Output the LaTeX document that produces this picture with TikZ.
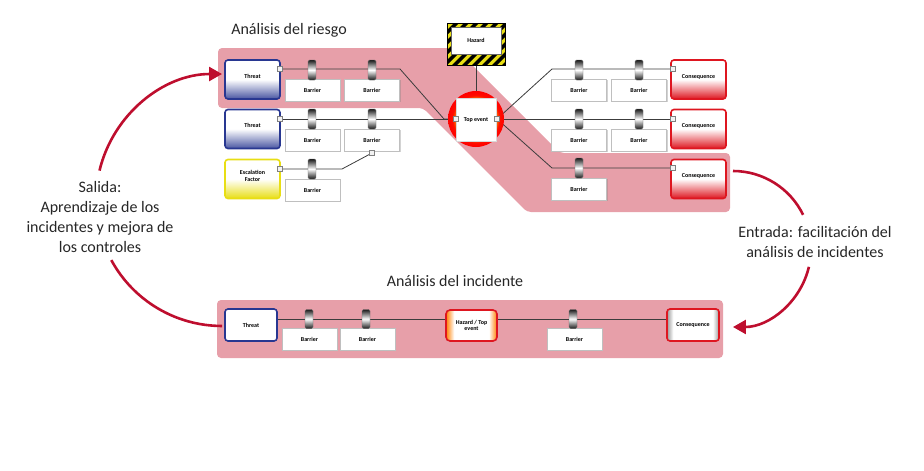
\documentclass[tikz,border=0pt]{standalone}
\usepackage{fontspec}
\setmainfont{Carlito}
\usetikzlibrary{arrows.meta,shadows,backgrounds}
\definecolor{band}{RGB}{231,159,169}
\definecolor{arrowred}{RGB}{190,14,46}
\definecolor{tblue}{RGB}{40,55,145}
\definecolor{cred}{RGB}{222,22,32}
\definecolor{efyellow}{RGB}{232,222,20}
\definecolor{wirec}{RGB}{60,60,60}
\newcommand\boxfont{\fontsize{6}{6.5}\selectfont\bfseries}
\pgfdeclareradialshading{teshade}{\pgfpointorigin}{color(0bp)=(yellow!60!orange);color(18bp)=(orange);color(21bp)=(red!90!orange);color(25bp)=(red);color(50bp)=(red)}
\pgfdeclarehorizontalshading{edgeorange}{100bp}{color(0bp)=(orange);color(25bp)=(orange);color(33bp)=(white);color(67bp)=(white);color(75bp)=(orange);color(100bp)=(orange)}
\pgfdeclarehorizontalshading{edgegray}{100bp}{color(0bp)=(black!40);color(25bp)=(black!40);color(31bp)=(white);color(69bp)=(white);color(75bp)=(black!40);color(100bp)=(black!40)}

\begin{document}
\begin{tikzpicture}[x=1pt,y=1pt,
	threat/.style = {draw=tblue,line width=1.6pt,rounded corners=3pt,top color=white,bottom color=tblue!85,middle color=white,
		minimum width=55pt,minimum height=39pt,inner sep=1pt,font=\boxfont,text height=4.5pt,text depth=7.5pt},
	consq/.style = {threat,draw=cred,bottom color=cred,middle color=white},
	escal/.style = {draw=efyellow,line width=1.6pt,rounded corners=3pt,top color=white,bottom color=efyellow,middle color=white,
		minimum width=55pt,minimum height=39pt,inner sep=1pt,font=\boxfont,align=center,text depth=6pt},
	barrier/.style = {draw=black!25,fill=white,minimum width=55pt,minimum height=22pt,inner sep=0pt,font=\boxfont,
		drop shadow={opacity=0.35,shadow xshift=1pt,shadow yshift=-1pt}},
	holder/.style = {draw=black!60,rounded corners=1.5pt,minimum width=8pt,minimum height=20pt,inner sep=0pt,
		top color=black!90,bottom color=black!90,middle color=white},
	port/.style = {draw=black!50,fill=black!5,minimum size=5pt,inner sep=0pt},
	tering/.style = {circle,minimum size=56pt,inner sep=0pt,shading=teshade},
	tebox/.style = {fill=white,draw=black!15,minimum width=40pt,minimum height=43pt,inner sep=0pt,font=\boxfont},
	hazard/.style = {draw=black,minimum width=58pt,minimum height=42pt,inner sep=0pt,font=\boxfont,text height=4.5pt,text depth=7.5pt,
		path picture={
			\fill[efyellow] (path picture bounding box.south west) rectangle (path picture bounding box.north east);
			\foreach \k in {0,...,11}
				\fill[black] ([xshift=\k*10pt-45pt]path picture bounding box.south west) -- ++(5pt,0pt) -- ++(50pt,50pt) -- ++(-5pt,0pt) -- cycle;
			\fill[white,draw=black!60] ([shift={(4pt,-4pt)}]path picture bounding box.north west) rectangle ([shift={(-4pt,11pt)}]path picture bounding box.south east);
		}},
	bthreat/.style = {draw=tblue,line width=1.6pt,rounded corners=3pt,fill=white,minimum width=52pt,minimum height=32pt,inner sep=1pt,font=\boxfont},
	bhazard/.style = {draw=cred,line width=1.6pt,rounded corners=4pt,shading=edgeorange,
		minimum width=51pt,minimum height=31pt,inner sep=1pt,font=\boxfont,align=center},
	bcons/.style = {draw=cred,line width=1.6pt,rounded corners=3pt,shading=edgegray,
		minimum width=52pt,minimum height=32pt,inner sep=1pt,font=\boxfont},
	wire/.style = {draw=wirec,line width=0.8pt},
	flow/.style = {draw=arrowred,line width=2.6pt},
	title/.style = {font=\fontsize{16}{19}\selectfont,text=black!85},
	note/.style = {font=\fontsize{16}{20}\selectfont,align=center,text=black!85}]

	\useasboundingbox (0,0) rectangle (924,-471);

	\node[title] (tr) at (289,-30) {Análisis del riesgo};
	\node[title] (ti) at (455,-281) {Análisis del incidente};
	\node[note] (sal) at (100,-217) {Salida:\\Aprendizaje de los\\incidentes y mejora de\\los controles};
	\node[note] (ent) at (815,-242) {Entrada: facilitación del\\análisis de incidentes};

	\node[threat] (t1) at (252.5,-79.5) {Threat};
	\node[threat] (t2) at (252.5,-129) {Threat};
	\node[escal] (ef) at (252.5,-179) {Escalation\\Factor};
	\node[port] (t1p) at (280,-69) {};
	\node[port] (t2p) at (280,-119) {};
	\node[port] (efp) at (280,-169) {};

	\node[barrier] (b11) at (312.5,-90) {Barrier};
	\node[barrier] (b12) at (372,-90) {Barrier};
	\node[barrier] (b21) at (312.5,-140) {Barrier};
	\node[barrier] (b22) at (372,-140) {Barrier};
	\node[barrier] (b31) at (312.5,-190) {Barrier};
	\node[port] (b22p) at (372,-153) {};
	\node[holder] (h11) at (312,-70) {};
	\node[holder] (h12) at (372,-70) {};
	\node[holder] (h21) at (312,-119) {};
	\node[holder] (h22) at (372,-119) {};
	\node[holder] (h31) at (312,-169) {};

	\node[hazard] (hz) at (476,-44) {Hazard};
	\node[tering] (tec) at (476,-119) {};
	\node[tebox] (te) at (476,-120) {Top event};
	\node[port] (tel) at (456,-119) {};
	\node[port] (ter) at (497,-119) {};

	\node[barrier] (r11) at (579,-90) {Barrier};
	\node[barrier] (r12) at (639,-90) {Barrier};
	\node[barrier] (r21) at (579,-140) {Barrier};
	\node[barrier] (r22) at (639,-140) {Barrier};
	\node[barrier] (r31) at (579,-189) {Barrier};
	\node[holder] (g11) at (579,-70) {};
	\node[holder] (g12) at (639,-70) {};
	\node[holder] (g21) at (579,-119) {};
	\node[holder] (g22) at (639,-119) {};
	\node[holder] (g31) at (579,-168) {};

	\node[consq] (q1) at (698.5,-79.5) {Consequence};
	\node[consq] (q2) at (698.5,-129) {Consequence};
	\node[consq] (q3) at (698.5,-179) {Consequence};
	\node[port] (q1p) at (673,-69) {};
	\node[port] (q2p) at (673,-119) {};
	\node[port] (q3p) at (673,-168) {};

	\node[bthreat] (bt) at (251,-325) {Threat};
	\node[barrier] (bb1) at (309.5,-339) {Barrier};
	\node[barrier] (bb2) at (367.5,-339) {Barrier};
	\node[barrier] (bb3) at (574.5,-339) {Barrier};
	\node[bhazard] (bh) at (471.5,-325.5) {Hazard / Top\\event};
	\node[bcons] (bq) at (693,-325) {Consequence};
	\node[holder,minimum height=19pt] (hb1) at (309,-319) {};
	\node[holder,minimum height=19pt] (hb2) at (366,-319) {};
	\node[holder,minimum height=19pt] (hb3) at (573,-319) {};

	\coordinate (kl1) at (400,-69);
	\coordinate (kl2) at (444,-119);
	\coordinate (kl3) at (342,-169);
	\coordinate (kr1) at (552,-69);
	\coordinate (kr3) at (552,-168);

	\begin{scope}[on background layer]
	\fill[band,rounded corners=4pt] (218,-48) -- (455,-48) -- (560,-153) -- (730,-153) -- (730,-212)
		-- (527,-212) -- (423,-108) -- (218,-108) -- cycle;
	\fill[band,rounded corners=4pt] (217,-300) rectangle (723,-358);
	\draw[wire] (t1p) -- (kl1) -- (kl2) -- (tel);
	\draw[wire] (t2p) -- (tel);
	\draw[wire] (efp) -- (kl3) -- (b22p);
	\draw[wire] (hz.south) -- (te.north);
	\draw[wire] (ter) -- (kr1) -- (q1p);
	\draw[wire] (ter) -- (q2p);
	\draw[wire] (ter) -- (kr3) -- (q3p);
	\draw[wire] (bt.east |- hb1) -- (bh.west |- hb1);
	\draw[wire] (bh.east |- hb3) -- (bq.west |- hb3);
	\end{scope}

	\coordinate (outa) at (99.5,-170.6);
	\coordinate (outb) at (111.3,-260.1);
	\coordinate (ina) at (733,-171);
	\coordinate (inb) at (808.9,-266.8);
	\draw[flow,-{Triangle[length=13pt,width=14pt]}] (outa) arc[start angle=166.5,end angle=90,radius=126pt];
	\draw[flow] (outb) arc[start angle=208.5,end angle=270,radius=126pt];
	\draw[flow] (ina) arc[start angle=90,end angle=26,radius=78pt];
	\draw[flow,-{Triangle[length=13pt,width=14pt]}] (inb) arc[start angle=-13.2,end angle=-90,radius=78pt];

\end{tikzpicture}
\end{document}
